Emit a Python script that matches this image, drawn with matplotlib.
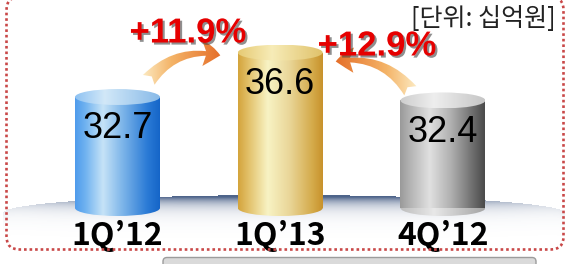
import numpy as np
import matplotlib
matplotlib.use('Agg')
import matplotlib.pyplot as plt
from matplotlib.patches import Ellipse, FancyBboxPatch, FancyArrowPatch
from matplotlib.colors import LinearSegmentedColormap, to_rgb
import matplotlib.transforms as mtransforms
import matplotlib.patheffects as pe

# ---------------- data ----------------
categories = ["1Q’12", "1Q’13", "4Q’12"]
values = [32.7, 36.6, 32.4]
growth_labels = ["+11.9%", "+12.9%"]
unit_label = "[단위: 십억원]"

# ---------------- figure ----------------
W, H = 566, 264
fig = plt.figure(figsize=(W / 100, H / 100), dpi=100)
ax = fig.add_axes([0, 0, 1, 1])
ax.axis('off')

base = 22.96
y_lo, y_hi = 18.05, 41.21
x_lo, x_hi = -0.722, 2.756
bar_w = 0.522
cap_h = 0.70

# pixel transform (x right, y down from top-left)
ptrans = mtransforms.Affine2D().scale(1 / W, -1 / H).translate(0, 1) + fig.transFigure

# ---------------- platform swoosh ----------------
yy, xx = np.mgrid[0:H, 0:W] + 0.5
cx, cy, a, b = 284, 213, 281, 18
r = np.clip(np.abs(xx - cx) / a, 0, 1)
ytop = cy - b * np.sqrt(1 - r ** 2)
d = yy - ytop
inside = (np.abs(xx - cx) < a) & (d >= 0)
k = 1.2 * np.exp(-d / 7.5) * (0.10 + 0.90 * (1 - r ** 2) ** 1.4)
k = np.where(inside, k, 0)
rgba = np.zeros((H, W, 4))
rgba[..., :3] = np.array(to_rgb('#3e5680'))
rgba[..., 3] = np.clip(k, 0, 0.92)
ax.imshow(rgba, extent=(0, W, H, 0), transform=ptrans, zorder=1.5,
          aspect='auto', interpolation='bilinear')

# ---------------- bottom strip & border ----------------
ax.add_patch(FancyBboxPatch((163, 257.5), 373, 20, boxstyle='round,pad=0,rounding_size=4',
                            transform=ptrans, fc='#dadada', ec='#9c9c9c', lw=1, zorder=1))
ax.add_patch(FancyBboxPatch((6.5, -3), 557, 252.5, boxstyle='round,pad=0,rounding_size=13',
                            transform=ptrans, fill=False, ec='#c94848', lw=1.9,
                            ls=(0, (1, 1.1)), zorder=6))

# ---------------- cylinders ----------------
def cmap(stops):
    return LinearSegmentedColormap.from_list('c', stops)

body_cm = [
    cmap([(0, '#4f9bec'), (0.12, '#6fb2f0'), (0.33, '#c6e3f7'), (0.55, '#80b7ea'), (0.85, '#2b7bd6'), (1, '#1565c8')]),
    cmap([(0, '#d4a43c'), (0.12, '#e2c068'), (0.35, '#f8f3c4'), (0.6, '#ead79a'), (0.88, '#d4aa4a'), (1, '#c8922c')]),
    cmap([(0, '#9a9a9a'), (0.12, '#b4b4b4'), (0.35, '#e0e0e0'), (0.6, '#b0b0b0'), (0.85, '#707070'), (1, '#4a4a4a')]),
]
top_cm = [
    cmap([(0, '#8ec2f2'), (0.35, '#d2e8f8'), (1, '#88bae8')]),
    cmap([(0, '#e6ca74'), (0.4, '#f7ecb8'), (1, '#e0c26a')]),
    cmap([(0, '#cdcdcd'), (0.4, '#eeeeee'), (1, '#c6c6c6')]),
]
bottom_cm = [body_cm[0], body_cm[1],
             cmap([(0, '#bdbdbd'), (0.4, '#e8e8e8'), (1, '#a4a4a4')])]

grad = np.linspace(0, 1, 256).reshape(1, -1)
bars = ax.bar(range(len(values)), [v - base for v in values], bottom=base,
              width=bar_w, color='none', edgecolor='none', zorder=3)

for i, (v, bar) in enumerate(zip(values, bars)):
    x0, x1 = i - bar_w / 2, i + bar_w / 2
    # bottom cap
    eb = Ellipse((i, base), bar_w, 2 * cap_h, fc='none', ec='none', zorder=2.9)
    ax.add_patch(eb)
    im = ax.imshow(grad, extent=(x0, x1, base - cap_h, base + cap_h), cmap=bottom_cm[i],
                   aspect='auto', zorder=2.9, interpolation='bilinear')
    im.set_clip_path(eb)
    # body
    im = ax.imshow(grad, extent=(x0, x1, base, v), cmap=body_cm[i],
                   aspect='auto', zorder=3, interpolation='bilinear')
    im.set_clip_path(bar)
    # top cap
    et = Ellipse((i, v), bar_w, 2 * cap_h, fc='none', ec='none', zorder=3.1)
    ax.add_patch(et)
    im = ax.imshow(grad, extent=(x0, x1, v - cap_h, v + cap_h), cmap=top_cm[i],
                   aspect='auto', zorder=3.1, interpolation='bilinear')
    im.set_clip_path(et)
    # value text
    ax.text(i, v - 2.8, f"{v:.1f}", ha='center', va='center', fontsize=26,
            family=['Liberation Sans', 'DejaVu Sans'], color='black', zorder=5)
    # category label
    ax.text(i, 20.55, categories[i], ha='center', va='center', fontsize=23,
            fontweight='bold', family=['Noto Sans CJK KR', 'DejaVu Sans'],
            color='black', zorder=5)

# ---------------- growth arrows ----------------
arrow_specs = [((147, 82), (223, 56), -0.32, False),
               ((412, 93), (333, 62), 0.32, True)]
for (pa, pb, rad, rev) in arrow_specs:
    arr = FancyArrowPatch(pa, pb, arrowstyle='fancy,head_length=0.5,head_width=0.7,tail_width=0.42',
                          connectionstyle=f'arc3,rad={rad}', mutation_scale=26,
                          transform=ptrans, fc='none', ec='none', zorder=4)
    ax.add_patch(arr)
    g = grad[:, ::-1] if rev else grad
    xs = sorted([pa[0], pb[0]])
    ys = sorted([pa[1], pb[1]])
    im = ax.imshow(g, extent=(xs[0] - 8, xs[1] + 8, ys[1] + 14, ys[0] - 16),
                   cmap=cmap([(0, '#fdf0cc'), (0.35, '#f4b468'), (1, '#e2601c')]),
                   transform=ptrans, aspect='auto', zorder=4.1, interpolation='bilinear')
    im.set_clip_path(arr)

label_pos = [(188, 33), (377, 46)]
for lab, (px, py) in zip(growth_labels, label_pos):
    ax.text(px, py, lab, transform=ptrans, ha='center', va='center', fontsize=25,
            fontweight='bold', family=['Liberation Sans', 'DejaVu Sans'], color='#e60000',
            zorder=5,
            path_effects=[pe.withSimplePatchShadow(offset=(1.5, -1.5), shadow_rgbFace='#444444', alpha=0.6)])

# ---------------- unit label ----------------
ax.text(556, 19, unit_label, transform=ptrans, ha='right', va='center', fontsize=18,
        family=['Noto Sans CJK KR', 'DejaVu Sans'], color='#222222', zorder=5)

ax.set_xlim(x_lo, x_hi)
ax.set_ylim(y_lo, y_hi)
fig.savefig('out.png', dpi=100)
